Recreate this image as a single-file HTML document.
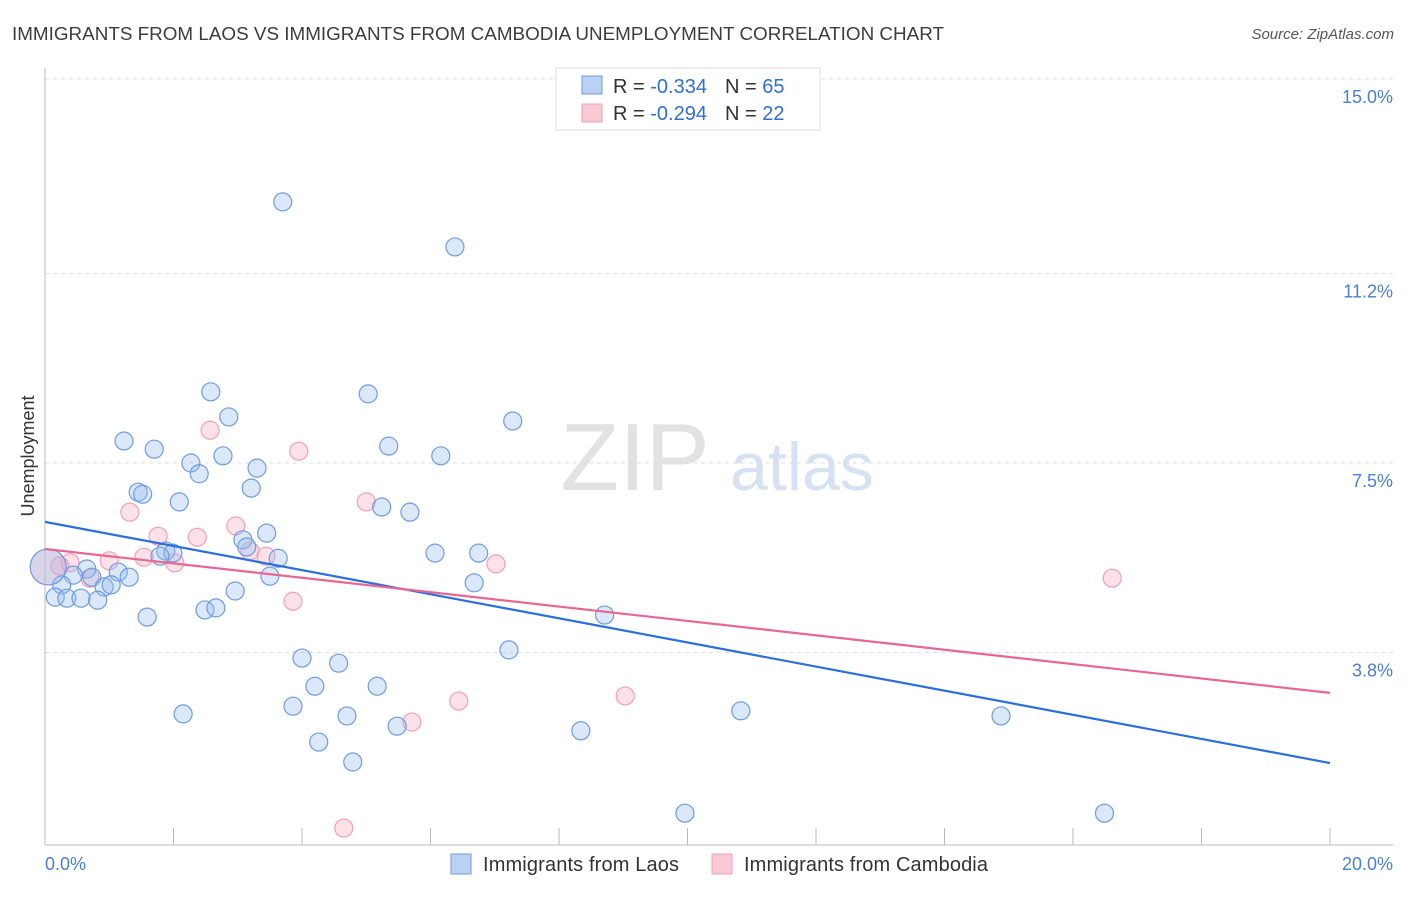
<!DOCTYPE html>
<html><head><meta charset="utf-8"><style>
body{margin:0;background:#fff;font-family:"Liberation Sans",sans-serif}
svg text{font-family:"Liberation Sans",sans-serif}
</style></head><body>
<svg id="chart" width="1406" height="892" xmlns="http://www.w3.org/2000/svg">
<text x="12" y="40" font-size="18" fill="#3c3c3c" textLength="932" lengthAdjust="spacingAndGlyphs">IMMIGRANTS FROM LAOS VS IMMIGRANTS FROM CAMBODIA UNEMPLOYMENT CORRELATION CHART</text>
<text x="1394" y="39" font-size="15" fill="#555" font-style="italic" text-anchor="end">Source: ZipAtlas.com</text>
<text x="0" y="0" transform="translate(34,456) rotate(-90)" font-size="18" fill="#333" text-anchor="middle">Unemployment</text>
<g><text x="635" y="490" font-size="96" fill="#e2e2e2" font-family="Liberation Serif" text-anchor="middle">ZIP</text><text x="802" y="490" font-size="68" fill="#d6e2f3" text-anchor="middle">atlas</text></g>
<g id="grid"></g><g id="axes"></g><g id="pts"></g><g id="trends"></g>
<g>
<rect x="556" y="68" width="264" height="62" fill="#fff" stroke="#ddd"/>
<rect x="582" y="76" width="20" height="18" fill="#b9d1f3" stroke="#6f9be0"/>
<rect x="582" y="104" width="20" height="18" fill="#f9c9d6" stroke="#eea0b5"/>
<text x="613" y="93" font-size="20" fill="#333">R = <tspan fill="#2e6fd6">-0.334</tspan><tspan dx="18">N = </tspan><tspan fill="#2e6fd6">65</tspan></text>
<text x="613" y="120" font-size="20" fill="#333">R = <tspan fill="#2e6fd6">-0.294</tspan><tspan dx="18">N = </tspan><tspan fill="#2e6fd6">22</tspan></text>
</g>
<g>
<rect x="451" y="854" width="20" height="20" fill="#b9d1f3" stroke="#6f9be0"/>
<text x="483" y="871" font-size="20" fill="#333" textLength="196">Immigrants from Laos</text>
<rect x="712" y="854" width="20" height="20" fill="#f9c9d6" stroke="#eea0b5"/>
<text x="744" y="871" font-size="20" fill="#333" textLength="244">Immigrants from Cambodia</text>
</g>
</svg>
<script>
const yTicks=[15.0,11.2,7.5,3.8];
const yTickLabels=["15.0%","11.2%","7.5%","3.8%"];
const xTickLabels=["0.0%","20.0%"];
const laosX=[3.70,6.38,2.58,5.03,2.86,7.28,1.23,1.70,5.35,2.77,6.16,2.27,3.30,2.40,1.45,1.52,3.21,2.09,5.24,5.68,3.45,3.08,3.14,1.88,1.99,1.79,6.07,6.75,3.63,0.65,1.14,0.44,0.73,1.31,3.50,6.68,0.26,0.92,1.03,2.96,0.16,0.34,0.56,0.82,1.59,2.49,2.66,8.71,4.00,7.22,4.57,4.20,5.17,3.86,2.15,4.70,10.83,14.88,5.48,8.34,4.26,4.79,9.96,16.49,0.05];
const laosY=[12.60,11.72,8.89,8.85,8.40,8.32,7.93,7.77,7.83,7.64,7.64,7.50,7.40,7.29,6.93,6.89,7.01,6.74,6.64,6.54,6.13,6.00,5.86,5.78,5.74,5.68,5.74,5.74,5.64,5.43,5.37,5.31,5.27,5.27,5.29,5.16,5.12,5.08,5.12,5.00,4.88,4.86,4.86,4.82,4.49,4.63,4.67,4.53,3.69,3.85,3.59,3.14,3.14,2.75,2.60,2.56,2.66,2.56,2.36,2.27,2.05,1.66,0.66,0.66,5.47];
const camX=[0.05,0.23,0.39,0.70,1.00,1.32,1.54,1.76,2.02,2.37,2.57,2.97,3.19,3.44,3.86,3.95,5.00,5.71,6.44,7.02,9.03,16.61,4.65];
const camY=[5.47,5.49,5.55,5.25,5.59,6.54,5.66,6.07,5.55,6.05,8.14,6.27,5.78,5.68,4.80,7.73,6.74,2.44,2.85,5.53,2.95,5.25,0.37];
const laosTrend=[6.35,1.64];
const camTrend=[5.82,3.01];
const NS="http://www.w3.org/2000/svg";
const X0=45,X1=1330,YT=79,PX=51.2;
function sx(v){return X0+(v/20)*(X1-X0);}
function sy(v){return YT+(15-v)*PX;}
function mk(t,a,p){const e=document.createElementNS(NS,t);for(const k in a)e.setAttribute(k,a[k]);p.appendChild(e);return e;}
const grid=document.getElementById('grid'),axes=document.getElementById('axes'),pts=document.getElementById('pts'),tr=document.getElementById('trends');
yTicks.forEach((t,i)=>{
 const l=mk('line',{x1:45,x2:1393,y1:sy(t),y2:sy(t),stroke:'#ddd','stroke-dasharray':'4,4'},grid);
 
 
 const tx=mk('text',{x:1393,y:sy(t)+24,'font-size':18,fill:'#4a7fd4','text-anchor':'end'},grid);
 tx.textContent=yTickLabels[i];
 
 
});
const ax=mk('line',{x1:45,x2:45,y1:68,y2:845,stroke:'#bbb'},axes);


const bx=mk('line',{x1:45,x2:1393,y1:845,y2:845,stroke:'#bbb'},axes);


for(let i=0;i<=10;i++){
 const t=mk('line',{x1:sx(i*2),x2:sx(i*2),y1:828,y2:845,stroke:'#bbb'},axes);
 
 
}
[[0,'start',45],[20,'end',1393]].forEach((d,i)=>{
 const t=mk('text',{x:d[2],y:870,'font-size':18,fill:'#4a7fd4','text-anchor':d[1]},axes);
 t.textContent=xTickLabels[i];
 
 
});
camX.forEach((v,i)=>{
 const c=mk('circle',{cx:sx(v),cy:sy(camY[i]),r:i===0?18:9,fill:'rgba(246,170,192,0.35)',stroke:'#f0a0b8','stroke-width':1.2},pts);
 
 
});
laosX.forEach((v,i)=>{
 const c=mk('circle',{cx:sx(v),cy:sy(laosY[i]),r:i===laosX.length-1?18:9,fill:'rgba(150,188,238,0.35)',stroke:'#6f9be0','stroke-width':1.2},pts);
 
 
});
const lt=mk('line',{x1:sx(0),y1:sy(laosTrend[0]),x2:sx(20),y2:sy(laosTrend[1]),stroke:'#2a6fdb','stroke-width':2.2},tr);


const ct=mk('line',{x1:sx(0),y1:sy(camTrend[0]),x2:sx(20),y2:sy(camTrend[1]),stroke:'#e8668f','stroke-width':2.2},tr);


</script>
</body></html>
